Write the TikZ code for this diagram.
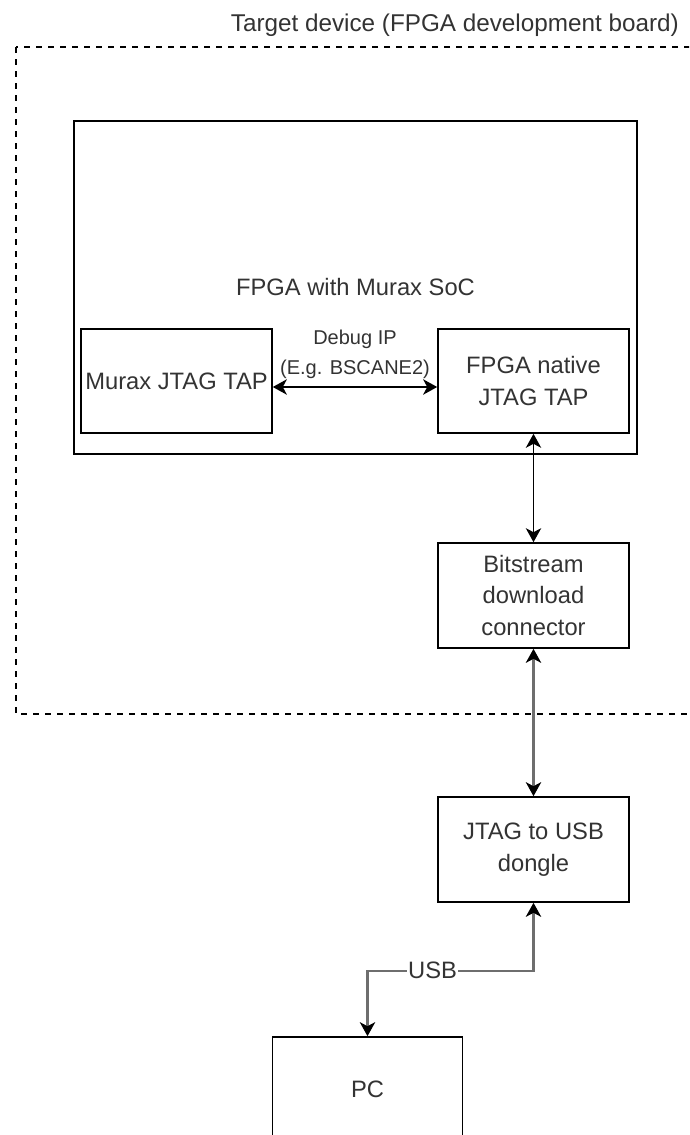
\documentclass[tikz,border=0pt]{standalone}
\usepackage{fontspec}
\setmainfont{Liberation Sans}
\usetikzlibrary{arrows.meta,calc}

\definecolor{txt}{HTML}{333333}
\definecolor{wire}{HTML}{6E6E6E}

\tikzset{
  block/.style={draw=black, line width=1.2pt, fill=white, text=txt,
    align=center, inner sep=0pt,
    font=\fontsize{17.8}{23.6}\selectfont},
  tipend/.tip={Stealth[length=10.5pt, width=11.5pt, inset=3pt, color=black]},
  link/.style={line width=1.1pt, draw=black, tipend-tipend},
  glink/.style={line width=1.7pt, draw=wire, tipend-tipend},
  boardframe/.style={draw=black, line width=1pt, dash pattern=on 4.5pt off 4.5pt},
}

\begin{document}
\begin{tikzpicture}[x=0.75pt, y=-0.75pt]
  \useasboundingbox (0,0) rectangle (689,1135);
  \clip (0,0) rectangle (689,1135);

  % development board outline (runs off to the right)
  \draw[boardframe] (16,47) rectangle (760,714);
  \node[anchor=east, text=txt, font=\fontsize{18.2}{23.6}\selectfont, inner sep=0pt]
    (boardlabel) at (679,25) {Target device (FPGA development board)};

  % FPGA and its TAPs
  \node[block, minimum width=563*0.75pt, minimum height=333*0.75pt]
    (fpga) at (355.5,287.5) {FPGA with Murax SoC};
  \node[block, minimum width=191*0.75pt, minimum height=104*0.75pt]
    (murax) at (176.5,381) {Murax JTAG TAP};
  \node[block, minimum width=191*0.75pt, minimum height=104*0.75pt]
    (native) at (533.5,381) {FPGA native\\JTAG TAP};

  % board connector, dongle and host
  \node[block, minimum width=191*0.75pt, minimum height=105*0.75pt]
    (bitconn) at (533.5,595.5) {Bitstream\\download\\connector};
  \node[block, minimum width=191*0.75pt, minimum height=105*0.75pt]
    (dongle) at (533.5,849.5) {JTAG to USB\\dongle};
  \node[block, minimum width=190*0.75pt, minimum height=105*0.75pt]
    (pc) at (367.5,1089.5) {PC};

  % connections
  \draw[link, line width=1.6pt] ([yshift=-4.5pt]murax.east) -- ([yshift=-4.5pt]native.west)
    node[midway, yshift=24.75pt, text=txt, align=center, inner sep=0pt,
         font=\fontsize{15}{22.5}\selectfont] (debuglabel) {Debug IP\\(E.g. BSCANE2)};
  \draw[link] (native.south) -- (bitconn.north);
  \draw[glink] (bitconn.south) -- (dongle.north);
  \draw[glink] (dongle.south) -- ++(0,68) -| (pc.north)
    node[pos=0.304, fill=white, text=txt, inner sep=1pt,
         font=\fontsize{17.8}{23.6}\selectfont] (usblabel) {USB};
\end{tikzpicture}
\end{document}
